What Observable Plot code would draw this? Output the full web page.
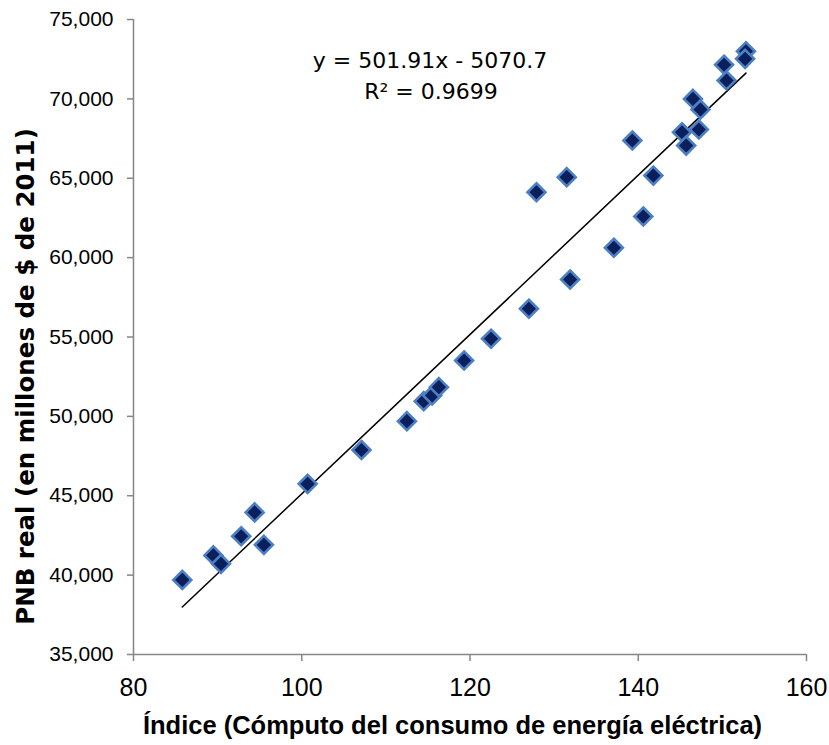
<!DOCTYPE html>
<html>
<head>
<meta charset="utf-8">
<script src="https://cdn.jsdelivr.net/npm/d3@7"></script>
<script src="https://cdn.jsdelivr.net/npm/@observablehq/plot@0.6"></script>
<style>
  html, body { margin: 0; padding: 0; background: #fff; }
  svg { display: block; }
</style>
</head>
<body>
<div id="chart"></div>
<script>
// Índice (Cómputo del consumo de energía eléctrica)
const indice = [85.8, 89.5, 90.4, 92.8, 94.4, 95.5, 100.7, 107.1, 112.5, 114.5, 115.5, 116.3, 119.3, 122.5, 127.0, 127.9, 131.5, 131.9, 137.1, 139.3, 140.6, 141.8, 145.2, 145.7, 146.5, 147.2, 147.4, 150.2, 150.5, 152.8, 152.7];
// PNB real (en millones de $ de 2011)
const pnb = [39700, 41240, 40710, 42450, 43950, 41910, 45750, 47880, 49700, 50960, 51320, 51840, 53520, 54890, 56780, 64120, 65070, 58620, 60620, 67380, 62590, 65170, 67900, 67060, 70000, 68070, 69330, 72150, 71160, 73000, 72520];

const slope = 501.91;
const intercept = -5070.7;
const r2 = 0.9699;

const xTicks = [80, 100, 120, 140, 160];
const yTicks = [35000, 40000, 45000, 50000, 55000, 60000, 65000, 70000, 75000];

const xLabel = "Índice (Cómputo del consumo de energía eléctrica)";
const yLabel = "PNB real (en millones de $ de 2011)";

const points = indice.map((x, i) => ({x, y: pnb[i]}));
const xExt = d3.extent(indice);
const fit = xExt.map(x => ({x, y: slope * x + intercept}));
const eqLine1 = `y = ${slope}x - ${Math.abs(intercept)}`;
const eqLine2 = `R² = ${r2}`;

const axisGray = "#868686";

const chart = Plot.plot({
  width: 829,
  height: 745,
  marginLeft: 133,
  marginRight: 23,
  marginTop: 19,
  marginBottom: 91,
  x: {domain: [80, 160]},
  y: {domain: [35000, 75000]},
  marks: [
    Plot.axisX({ticks: xTicks, tickSize: 7, tickPadding: 17, stroke: axisGray, strokeWidth: 1.5, fill: "#000",
      fontSize: 25, fontFamily: "Liberation Sans", label: null}),
    Plot.axisY({ticks: yTicks, tickFormat: d3.format(","), tickSize: 6, tickPadding: 14, stroke: axisGray, strokeWidth: 1.5, fill: "#000",
      fontSize: 21, fontFamily: "Liberation Sans", label: null}),
    Plot.ruleX([80], {stroke: axisGray, strokeWidth: 1.5}),
    Plot.ruleY([35000], {stroke: axisGray, strokeWidth: 1.5}),
    Plot.line(fit, {x: "x", y: "y", stroke: "#000", strokeWidth: 1.5}),
    Plot.dot(points, {x: "x", y: "y", symbol: "diamond2", r: 8.1, fill: "#0a1f5c", stroke: "#4d80c2", strokeWidth: 2.6}),
    Plot.text([eqLine1], {text: d => d, frameAnchor: "top", dx: -40, dy: 48, lineAnchor: "bottom", textAnchor: "middle",
      fontSize: 22, fontFamily: "DejaVu Sans", fill: "#000"}),
    Plot.text([eqLine2], {text: d => d, frameAnchor: "top", dx: -39, dy: 79, lineAnchor: "bottom", textAnchor: "middle",
      fontSize: 22, fontFamily: "DejaVu Sans", fill: "#000"}),
    Plot.text([xLabel], {text: d => d, frameAnchor: "bottom", dx: -17.5, dy: 79, lineAnchor: "bottom", textAnchor: "middle",
      fontSize: 25.5, fontWeight: "bold", fontFamily: "Liberation Sans", fill: "#000"}),
    Plot.text([yLabel], {text: d => d, frameAnchor: "left", dx: -100, dy: 39.5, rotate: -90, lineAnchor: "bottom", textAnchor: "middle",
      fontSize: 24.5, fontWeight: "bold", fontFamily: "DejaVu Sans", fill: "#000"})
  ]
});
document.getElementById("chart").appendChild(chart);
</script>
</body>
</html>
